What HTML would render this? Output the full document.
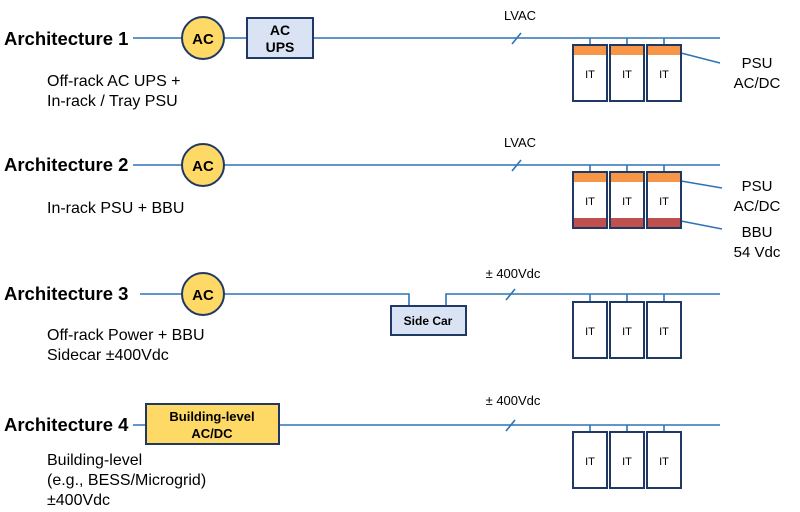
<!DOCTYPE html>
<html><head><meta charset="utf-8"><style>
html,body{margin:0;padding:0;background:#fff;}
svg{display:block;font-family:"Liberation Sans",Arial,sans-serif;}
</style></head><body>
<svg width="800" height="512" viewBox="0 0 800 512" xmlns="http://www.w3.org/2000/svg">
<defs>
<g id="rack">
<rect x="0" y="0" width="34" height="56" fill="#fff" stroke="#1f3864" stroke-width="2"/>
<text x="17" y="33" font-size="11" text-anchor="middle" fill="#000">IT</text>
</g>
</defs>
<g stroke="#2e74b5" stroke-width="1.6" fill="none">
<line x1="133" y1="38" x2="720" y2="38"/>
<line x1="590" y1="38" x2="590" y2="46"/><line x1="627" y1="38" x2="627" y2="46"/><line x1="664" y1="38" x2="664" y2="46"/>
<line x1="681" y1="53" x2="720" y2="63"/>
<line x1="512" y1="44" x2="521" y2="33"/>
<line x1="133" y1="165" x2="720" y2="165"/>
<line x1="590" y1="165" x2="590" y2="173"/><line x1="627" y1="165" x2="627" y2="173"/><line x1="664" y1="165" x2="664" y2="173"/>
<line x1="681" y1="181" x2="722" y2="188"/>
<line x1="681" y1="221" x2="722" y2="229"/>
<line x1="512" y1="171" x2="521" y2="160"/>
<polyline points="140,294 409,294 409,306"/>
<polyline points="446,306 446,294 720,294"/>
<line x1="590" y1="294" x2="590" y2="303"/><line x1="627" y1="294" x2="627" y2="303"/><line x1="664" y1="294" x2="664" y2="303"/>
<line x1="506" y1="300" x2="515" y2="289"/>
<line x1="133" y1="425" x2="720" y2="425"/>
<line x1="590" y1="425" x2="590" y2="432"/><line x1="627" y1="425" x2="627" y2="432"/><line x1="664" y1="425" x2="664" y2="432"/>
<line x1="506" y1="431" x2="515" y2="420"/>
</g>
<circle cx="203" cy="38" r="21" fill="#ffd966" stroke="#1f3864" stroke-width="2"/>
<text x="203" y="44" font-size="15" font-weight="bold" text-anchor="middle">AC</text>
<rect x="247" y="18" width="66" height="40" fill="#dae3f3" stroke="#1f3864" stroke-width="2"/>
<text x="280" y="35" font-size="14" font-weight="bold" text-anchor="middle">AC</text>
<text x="280" y="52" font-size="14" font-weight="bold" text-anchor="middle">UPS</text>
<circle cx="203" cy="165" r="21" fill="#ffd966" stroke="#1f3864" stroke-width="2"/>
<text x="203" y="171" font-size="15" font-weight="bold" text-anchor="middle">AC</text>
<circle cx="203" cy="294" r="21" fill="#ffd966" stroke="#1f3864" stroke-width="2"/>
<text x="203" y="300" font-size="15" font-weight="bold" text-anchor="middle">AC</text>
<rect x="391" y="306" width="75" height="29" fill="#dae3f3" stroke="#1f3864" stroke-width="2"/>
<text x="428" y="325" font-size="12" font-weight="bold" text-anchor="middle">Side Car</text>
<rect x="146" y="404" width="133" height="40" fill="#ffd966" stroke="#1f3864" stroke-width="2"/>
<text x="212" y="421" font-size="13" font-weight="bold" text-anchor="middle">Building-level</text>
<text x="212" y="438" font-size="13" font-weight="bold" text-anchor="middle">AC/DC</text>
<g transform="translate(573,45)"><use href="#rack"/><rect x="1" y="1" width="32" height="9" fill="#f79646"/></g>
<g transform="translate(610,45)"><use href="#rack"/><rect x="1" y="1" width="32" height="9" fill="#f79646"/></g>
<g transform="translate(647,45)"><use href="#rack"/><rect x="1" y="1" width="32" height="9" fill="#f79646"/></g>
<g transform="translate(573,172)"><use href="#rack"/><rect x="1" y="1" width="32" height="9" fill="#f79646"/><rect x="1" y="46" width="32" height="9" fill="#c0504d"/></g>
<g transform="translate(610,172)"><use href="#rack"/><rect x="1" y="1" width="32" height="9" fill="#f79646"/><rect x="1" y="46" width="32" height="9" fill="#c0504d"/></g>
<g transform="translate(647,172)"><use href="#rack"/><rect x="1" y="1" width="32" height="9" fill="#f79646"/><rect x="1" y="46" width="32" height="9" fill="#c0504d"/></g>
<g transform="translate(573,302)"><use href="#rack"/></g>
<g transform="translate(610,302)"><use href="#rack"/></g>
<g transform="translate(647,302)"><use href="#rack"/></g>
<g transform="translate(573,432)"><use href="#rack"/></g>
<g transform="translate(610,432)"><use href="#rack"/></g>
<g transform="translate(647,432)"><use href="#rack"/></g>
<g font-size="18.5" font-weight="bold" fill="#000">
<text x="4" y="45">Architecture 1</text>
<text x="4" y="171">Architecture 2</text>
<text x="4" y="300">Architecture 3</text>
<text x="4" y="431">Architecture 4</text>
</g>
<g font-size="16" fill="#000">
<text x="47" y="86">Off-rack AC UPS +</text>
<text x="47" y="106">In-rack / Tray PSU</text>
<text x="47" y="213">In-rack PSU + BBU</text>
<text x="47" y="340">Off-rack Power + BBU</text>
<text x="47" y="360">Sidecar ±400Vdc</text>
<text x="47" y="465">Building-level</text>
<text x="47" y="485">(e.g., BESS/Microgrid)</text>
<text x="47" y="505">±400Vdc</text>
</g>
<g font-size="15" fill="#000">
<text x="757" y="68" text-anchor="middle">PSU</text>
<text x="757" y="88" text-anchor="middle">AC/DC</text>
<text x="757" y="191" text-anchor="middle">PSU</text>
<text x="757" y="211" text-anchor="middle">AC/DC</text>
<text x="757" y="237" text-anchor="middle">BBU</text>
<text x="757" y="257" text-anchor="middle">54 Vdc</text>
</g>
<g font-size="13" fill="#000">
<text x="520" y="20" text-anchor="middle">LVAC</text>
<text x="520" y="147" text-anchor="middle">LVAC</text>
<text x="513" y="278" text-anchor="middle">± 400Vdc</text>
<text x="513" y="405" text-anchor="middle">± 400Vdc</text>
</g>
</svg>
</body></html>
